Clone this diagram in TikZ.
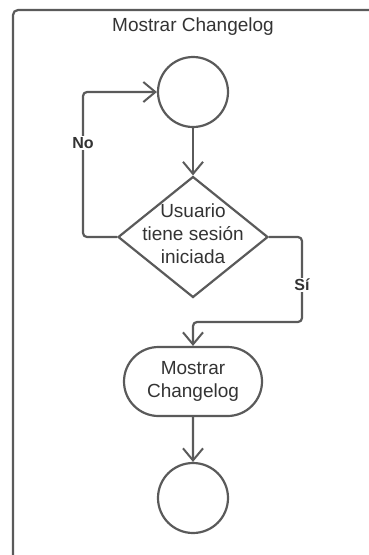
\documentclass[tikz,border=0pt]{standalone}
\usepackage{fontspec}
\setmainfont{Liberation Sans}
\usetikzlibrary{arrows.meta,shapes.geometric,shapes.misc}
\definecolor{linec}{HTML}{5A5A5A}
\definecolor{textc}{HTML}{333333}
\tikzset{
  base/.style={draw=linec, line width=2.2pt, text=textc, inner sep=0pt,
    font=\fontsize{19}{23}\selectfont, align=center},
  state/.style={base, circle, minimum size=70pt},
  decision/.style={base, diamond, minimum width=150pt, minimum height=121pt},
  activity/.style={base, rounded rectangle, minimum width=138pt, minimum height=69pt},
  flow/.style={draw=linec, line width=2.2pt, rounded corners=4pt,
    -{Straight Barb[length=12pt,width=20pt,line width=2pt]}},
  guard/.style={fill=white, text=textc, inner sep=1pt,
    font=\fontsize{16}{19}\selectfont\bfseries},
}
\begin{document}
\begin{tikzpicture}[x=1pt,y=-1pt]
  \useasboundingbox (0,0) rectangle (369,555);
  % swimlane frame
  \draw[linec, line width=2.2pt, rounded corners=5pt] (13,560) -- (13,10) -- (375,10);
  \node (title) [text=textc, font=\fontsize{19}{23}\selectfont] at (193,27) {Mostrar Changelog};

  \node (start) [state] at (193,92) {};
  \node (check) [decision, label={[text=textc, font=\fontsize{19}{23}\selectfont, align=center, yshift=3pt]center:Usuario\\tiene sesión\\iniciada}] at (193,237) {};
  \node (show) [activity] at (193,381.5) {Mostrar\\Changelog};
  \node (stop) [state] at (193,498) {};

  \coordinate (nobend) at (83,237);
  \coordinate (sibend) at (302,322);

  \draw[flow] (start) -- (check);
  \draw[flow] (check.west) -- (nobend) |- (start.west);
  \draw[flow] (check.east) -| (sibend) -| (show.north);
  \draw[flow] (show) -- (stop);

  \node (no) [guard] at (83,143) {No};
  \node (si) [guard] at (302,285) {Sí};
\end{tikzpicture}
\end{document}
